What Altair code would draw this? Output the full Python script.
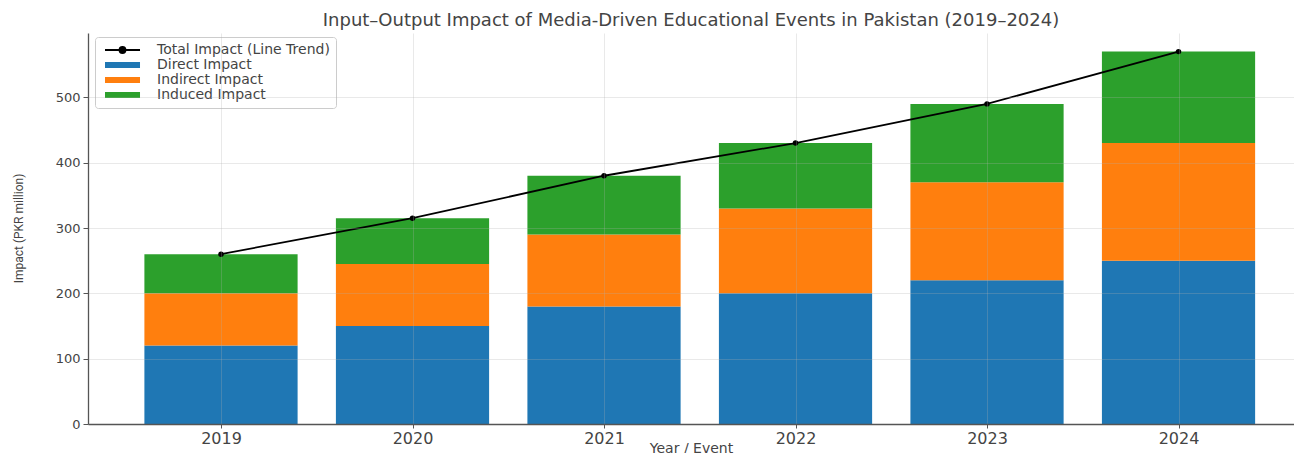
import json
import altair as alt
import pandas as pd

years = ["2019", "2020", "2021", "2022", "2023", "2024"]
direct = [120, 150, 180, 200, 220, 250]
indirect = [80, 95, 110, 130, 150, 180]
induced = [60, 70, 90, 100, 120, 140]
component_names = ["Direct Impact", "Indirect Impact", "Induced Impact"]
total_name = "Total Impact (Line Trend)"
palette = ["#000000", "#1f77b4", "#ff7f0e", "#2ca02c"]

rows = []
for i, yr in enumerate(years):
    base = 0
    for name, vals in zip(component_names, [direct, indirect, induced]):
        rows.append({"i": i, "year": yr, "series": name, "y0": base, "y1": base + vals[i]})
        base += vals[i]
bars_df = pd.DataFrame(rows)

line_df = pd.DataFrame({
    "i": list(range(len(years))),
    "year": years,
    "total": [a + b + c for a, b, c in zip(direct, indirect, induced)],
    "series": [total_name] * len(years),
})

domain_names = [total_name] + component_names
color_map = json.dumps(dict(zip(domain_names, palette)))

sym_line = "M-1,0H10.67M5.83,0A1,1,0,1,1,3.83,0A1,1,0,1,1,5.83,0Z"
sym_bar = "M-1,-1H10.67V1H-1Z"
is_total = f"datum.value === '{total_name}'"

legend = alt.Legend(
    title=None,
    orient="none",
    legendX=7,
    legendY=4,
    symbolSize=36,
    symbolType={"expr": f"{is_total} ? '{sym_line}' : '{sym_bar}'"},
    symbolFillColor={"expr": f"{color_map}[datum.value]"},
    symbolStrokeColor="#000000",
    symbolStrokeWidth={"expr": f"{is_total} ? 1.8 : 0"},
    symbolOpacity=1,
    labelOffset=42,
    labelLimit=400,
    labelFont="DejaVu Sans",
    labelFontSize=14,
    labelColor="#444444",
    rowPadding=1,
    padding=6,
    strokeColor="#cccccc",
    fillColor="#ffffff",
    cornerRadius=3,
)

color = alt.Color("series:N", scale=alt.Scale(domain=domain_names, range=palette), legend=legend)

x_scale = alt.Scale(domain=[-0.6945, 5.603], nice=False, zero=False)
y_scale = alt.Scale(domain=[0, 598.5], nice=False)

x_axis = alt.Axis(
    values=list(range(len(years))),
    labelExpr=f"{json.dumps(years)}[datum.value]",
    title="Year / Event",
    labelFontSize=16,
    labelFont="DejaVu Sans",
    labelColor="#444444",
    labelPadding=2,
    tickSize=4,
    titleFont="DejaVu Sans",
    titleFontSize=14,
    titleFontWeight="normal",
    titleColor="#444444",
    titleY=24,
    titleBaseline="middle",
    zindex=1,
)
y_axis = alt.Axis(
    values=[0, 100, 200, 300, 400, 500],
    title="Impact (PKR million)",
    labelFontSize=13,
    labelFont="DejaVu Sans",
    labelColor="#444444",
    labelPadding=3,
    tickSize=5,
    titleFont="Roboto",
    titleFontSize=12,
    titleFontWeight="normal",
    titleColor="#444444",
    titleX=-70,
    titleY=195,
    titleAngle=-90,
    titleAlign="center",
    titleBaseline="middle",
    zindex=1,
)

bars = (
    alt.Chart(bars_df)
    .transform_calculate(xa="datum.i - 0.4", xb="datum.i + 0.4")
    .mark_bar()
    .encode(
        x=alt.X("xa:Q", scale=x_scale, axis=x_axis),
        x2="xb:Q",
        y=alt.Y("y0:Q", scale=y_scale, axis=y_axis),
        y2="y1:Q",
        color=color,
    )
)

line = (
    alt.Chart(line_df)
    .mark_line(strokeWidth=1.8, point=alt.OverlayMarkDef(filled=True, size=30, color="#000000"))
    .encode(
        x=alt.X("i:Q", scale=x_scale, axis=x_axis),
        y=alt.Y("total:Q", scale=y_scale, axis=y_axis),
        color=color,
    )
)

chart = (
    alt.layer(bars, line)
    .properties(
        width=1206,
        height=391,
        autosize=alt.AutoSizeParams(type="none"),
        padding={"left": 80, "top": 25, "right": 0, "bottom": 29},
        background="#ffffff",
        title=alt.Title(
            "Figure 31.",
            subtitle="Input\u2013Output Impact of Media-Driven Educational Events in Pakistan (2019\u20132024)",
            font="Liberation Serif",
            fontSize=24,
            fontWeight="bold",
            color="#000000",
            subtitleFont="DejaVu Sans",
            subtitleFontSize=18,
            subtitleColor="#444444",
            subtitlePadding=7,
            offset=3,
            anchor="middle",
        ),
    )
    .configure_view(stroke=None)
    .configure_axis(
        domainColor="#555555",
        domainWidth=1.3,
        tickColor="#555555",
        gridColor="#b0b0b0",
        gridOpacity=0.35,
        gridWidth=0.8,
    )
)

chart.save("out.html", embed_options={"renderer": "svg", "actions": False})
